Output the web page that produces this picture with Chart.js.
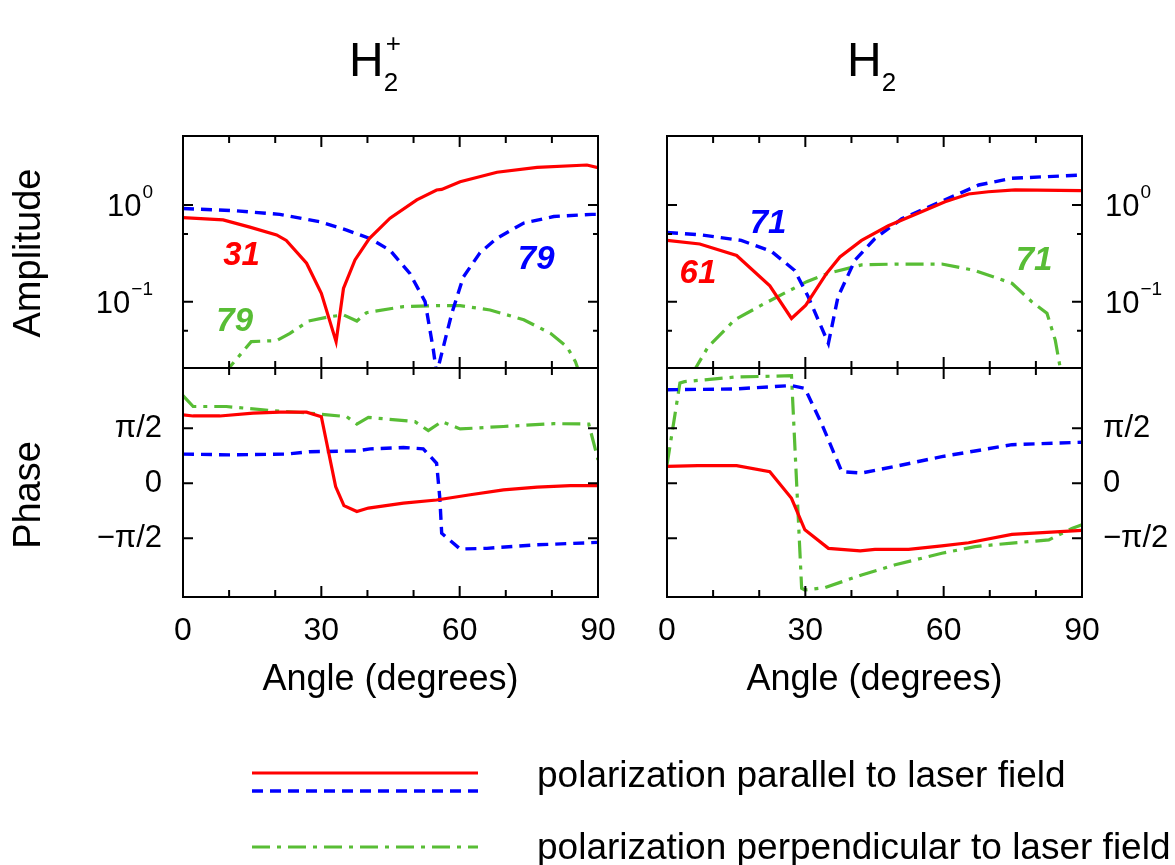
<!DOCTYPE html>
<html>
<head>
<meta charset="utf-8">
<script src="https://cdn.jsdelivr.net/npm/chart.js@4.4.0/dist/chart.umd.min.js"></script>
<style>
  html, body { margin: 0; padding: 0; background: #fff; }
  #wrap { position: relative; width: 1175px; height: 865px; overflow: hidden; background: #fff; }
  #wrap canvas { position: absolute; left: 0; top: 0; }
</style>
</head>
<body>
<div id="wrap">
  <canvas id="ampL" width="1175" height="865"></canvas>
  <canvas id="phaseL" width="1175" height="865"></canvas>
  <canvas id="ampR" width="1175" height="865"></canvas>
  <canvas id="phaseR" width="1175" height="865"></canvas>
</div>
<script>
// ---- data (angle in degrees, amplitude, phase in radians) ----

// H2+ amplitude
const h2pAmpParX  = [0, 8.7, 14.5, 20.3, 22.4, 26.8, 30, 33.2, 34.8, 37.3, 40.4, 44.9, 50.7, 55, 56.1, 60.1, 68.1, 76.8, 87.6, 90];
const h2pAmpParY  = [0.74, 0.70, 0.59, 0.49, 0.43, 0.25, 0.122, 0.0386, 0.137, 0.27, 0.45, 0.73, 1.13, 1.43, 1.45, 1.74, 2.18, 2.45, 2.59, 2.43];
const h2pAmpParBX = [0, 11.6, 21, 29.7, 35.5, 40.5, 44.9, 49.2, 52.5, 54.3, 55, 58.3, 60.8, 64.4, 68, 73.9, 80.4, 88.7, 90];
const h2pAmpParBY = [0.92, 0.87, 0.80, 0.67, 0.55, 0.45, 0.34, 0.196, 0.10, 0.0316, 0.018, 0.076, 0.18, 0.32, 0.45, 0.65, 0.76, 0.80, 0.80];
const h2pAmpPerX  = [8.5, 14.8, 20.3, 23.2, 27.2, 31.9, 34.8, 37.7, 39.8, 47.8, 55, 60.1, 66.6, 73.9, 79.7, 83.3, 85.1, 86];
const h2pAmpPerY  = [0.017, 0.0386, 0.0396, 0.047, 0.063, 0.070, 0.073, 0.063, 0.077, 0.089, 0.091, 0.091, 0.082, 0.065, 0.047, 0.034, 0.024, 0.018];

// H2+ phase
const h2pPhParX  = [0, 2.2, 8, 15.2, 21, 26.8, 30, 33.1, 34.9, 37.7, 40.2, 47.8, 55, 62.3, 69.5, 76.8, 84, 90];
const h2pPhParY  = [1.95, 1.92, 1.92, 2.0, 2.03, 2.03, 1.90, -0.095, -0.64, -0.81, -0.71, -0.57, -0.48, -0.33, -0.19, -0.11, -0.067, -0.067];
const h2pPhParBX = [0, 10.1, 22.4, 27.5, 37.7, 40.6, 47.8, 52.1, 55, 55.7, 56.1, 60.1, 65.9, 76.8, 90];
const h2pPhParBY = [0.83, 0.81, 0.83, 0.90, 0.92, 0.98, 1.02, 0.98, 0.57, -0.43, -1.43, -1.88, -1.86, -1.76, -1.69];
const h2pPhPerX  = [0, 2.2, 9.4, 18.8, 27.5, 35.5, 37.7, 40.2, 50.3, 53.2, 56.1, 60.1, 69.5, 80.4, 88, 90];
const h2pPhPerY  = [2.50, 2.19, 2.19, 2.08, 2.0, 1.90, 1.69, 1.88, 1.76, 1.50, 1.76, 1.55, 1.62, 1.70, 1.69, 0.67];

// H2 amplitude
const h2AmpParX  = [0, 7.1, 15.1, 22.3, 27, 30.1, 34.6, 37.5, 42.2, 48, 55.2, 60.3, 65.4, 69.7, 75.5, 90];
const h2AmpParY  = [0.43, 0.395, 0.30, 0.146, 0.067, 0.092, 0.196, 0.29, 0.43, 0.61, 0.85, 1.08, 1.30, 1.37, 1.43, 1.41];
const h2AmpParBX = [0, 7.5, 16.1, 22.7, 27.7, 30.6, 35, 37.1, 40.8, 45.1, 50.9, 60.3, 67.6, 74.8, 90];
const h2AmpParBY = [0.52, 0.49, 0.43, 0.33, 0.21, 0.113, 0.037, 0.113, 0.27, 0.45, 0.72, 1.13, 1.61, 1.89, 2.04];
const h2AmpPerX  = [5.5, 8.9, 14.7, 21.2, 30.3, 34.9, 42.2, 49.5, 59.6, 66.8, 74.8, 79.1, 82.4, 84.2, 85.5];
const h2AmpPerY  = [0.018, 0.034, 0.065, 0.096, 0.161, 0.196, 0.24, 0.245, 0.245, 0.21, 0.155, 0.10, 0.076, 0.040, 0.018];

// H2 phase
const h2PhParX  = [0, 6.7, 15.1, 22.3, 27, 29.9, 35, 41.9, 45.1, 52.4, 59.6, 65.4, 74.8, 90];
const h2PhParY  = [0.48, 0.50, 0.50, 0.33, -0.43, -1.33, -1.86, -1.93, -1.89, -1.89, -1.79, -1.70, -1.46, -1.35];
const h2PhParBX = [0, 14.7, 27, 29.9, 33.5, 37.9, 42.2, 49.5, 59.6, 66.8, 74.8, 90];
const h2PhParBY = [2.67, 2.69, 2.79, 2.71, 1.71, 0.33, 0.29, 0.48, 0.76, 0.92, 1.10, 1.17];
const h2PhPerX  = [0, 2.8, 3.8, 14.7, 27, 29.2, 29.9, 34.3, 42.2, 49.5, 59.6, 66.8, 74.8, 82.8, 87.8, 90];
const h2PhPerY  = [0.52, 2.86, 2.90, 3.03, 3.07, -3.0, -3.05, -2.98, -2.62, -2.33, -2.0, -1.81, -1.71, -1.62, -1.29, -1.19];

// axes
const angleTicks = [0, 10, 20, 30, 40, 50, 60, 70, 80, 90];
const angleLabels = [0, 30, 60, 90];
const ampTicks = [0.05, 0.1, 0.5, 1];
const ampTickMajor = [false, true, false, true];
const ampTickLabels = [null, ['10', '\u22121'], null, ['10', '0']];
const phaseTicks = [-Math.PI / 2, 0, Math.PI / 2];
const phaseTickLabels = ['\u2212\u03c0/2', '0', '\u03c0/2'];

// curve labels (in data coordinates)
const h2pNotes = [
    { text: '31', x: 12.7, y: 0.30, color: 'red' },
    { text: '79', x: 76.6, y: 0.273, color: 'blue' },
    { text: '79', x: 11.2, y: 0.0624, color: 'green' }
];
const h2Notes = [
    { text: '61', x: 6.7, y: 0.193, color: 'red' },
    { text: '71', x: 21.9, y: 0.644, color: 'blue' },
    { text: '71', x: 79.6, y: 0.267, color: 'green' }
];

const COLORS = { red: '#ff0000', blue: '#0000ff', green: '#58bd35' };
const FONT = '"Liberation Sans", Arial, Helvetica, sans-serif';
const W = 1175, H = 865;

function pts(xs, ys) {
    return xs.map((x, i) => ({ x: x, y: ys[i] }));
}

function makeSets(parX, parY, parBX, parBY, perX, perY) {
    return [
        { data: pts(parX, parY), borderColor: COLORS.red, borderWidth: 3.2, borderDash: [] },
        { data: pts(parBX, parBY), borderColor: COLORS.blue, borderWidth: 3.4, borderDash: [11, 7] },
        { data: pts(perX, perY), borderColor: COLORS.green, borderWidth: 3.2, borderDash: [18, 7, 4, 7] }
    ].map(d => Object.assign(d, { fill: false, pointRadius: 0, tension: 0, clip: 0 }));
}

function drawPower(ctx, base, exp, x, y, align) {
    ctx.font = '31px ' + FONT;
    const wb = ctx.measureText(base).width;
    ctx.font = '19px ' + FONT;
    const we = ctx.measureText(exp).width;
    let start = align === 'right' ? x - wb - we - 1 : x;
    ctx.textAlign = 'left';
    ctx.textBaseline = 'alphabetic';
    ctx.font = '31px ' + FONT;
    ctx.fillText(base, start, y + 11);
    ctx.font = '19px ' + FONT;
    ctx.fillText(exp, start + wb + 1, y - 7);
}

function panelPlugin(cfg) {
    return {
        id: 'panel_' + cfg.name,
        afterDatasetsDraw(chart) {
            const ctx = chart.ctx;
            const a = chart.chartArea;
            const xs = chart.scales.x, ys = chart.scales.y;
            ctx.save();

            // frame and inward ticks
            ctx.strokeStyle = '#000';
            ctx.lineWidth = 2;
            ctx.strokeRect(a.left, a.top, a.right - a.left, a.bottom - a.top);
            ctx.beginPath();
            angleTicks.forEach(v => {
                const px = xs.getPixelForValue(v);
                const len = v % 30 === 0 ? 11 : 7;
                ctx.moveTo(px, a.top); ctx.lineTo(px, a.top + len);
                ctx.moveTo(px, a.bottom); ctx.lineTo(px, a.bottom - len);
            });
            cfg.yTicks.forEach((v, i) => {
                const py = ys.getPixelForValue(v);
                const len = cfg.yMajor[i] ? 10 : 5;
                ctx.moveTo(a.left, py); ctx.lineTo(a.left + len, py);
                ctx.moveTo(a.right, py); ctx.lineTo(a.right - len, py);
            });
            ctx.stroke();

            ctx.fillStyle = '#000';
            // y tick labels
            cfg.yTicks.forEach((v, i) => {
                const lab = cfg.yLabels[i];
                if (!lab) return;
                const py = ys.getPixelForValue(v);
                if (Array.isArray(lab)) {
                    if (cfg.side === 'left') drawPower(ctx, lab[0], lab[1], a.left - 30, py, 'right');
                    else drawPower(ctx, lab[0], lab[1], a.right + 23, py, 'left');
                } else {
                    ctx.font = '31px ' + FONT;
                    ctx.textBaseline = 'middle';
                    if (cfg.side === 'left') {
                        ctx.textAlign = 'right';
                        ctx.fillText(lab, a.left - 21, py);
                    } else {
                        ctx.textAlign = 'left';
                        ctx.fillText(lab, a.right + 21, py);
                    }
                }
            });

            // x tick labels + axis title
            if (cfg.xAxis) {
                ctx.font = '32px ' + FONT;
                ctx.textAlign = 'center';
                ctx.textBaseline = 'alphabetic';
                angleLabels.forEach(v => {
                    ctx.fillText(String(v), xs.getPixelForValue(v), a.bottom + 43);
                });
                ctx.font = '36px ' + FONT;
                ctx.fillText('Angle (degrees)', (a.left + a.right) / 2, a.bottom + 93);
            }

            // y axis title (left column only)
            if (cfg.yTitle) {
                ctx.save();
                ctx.translate(30, cfg.yTitleY);
                ctx.rotate(-Math.PI / 2);
                ctx.font = '38px ' + FONT;
                ctx.textAlign = 'center';
                ctx.textBaseline = 'middle';
                ctx.fillText(cfg.yTitle, 0, 0);
                ctx.restore();
            }

            // curve labels
            if (cfg.notes) {
                ctx.font = 'italic bold 33px ' + FONT;
                ctx.textAlign = 'center';
                ctx.textBaseline = 'middle';
                cfg.notes.forEach(n => {
                    ctx.fillStyle = COLORS[n.color];
                    ctx.fillText(n.text, xs.getPixelForValue(n.x), ys.getPixelForValue(n.y));
                });
            }

            // panel title
            if (cfg.title) {
                const t = cfg.title;
                ctx.fillStyle = '#000';
                ctx.textAlign = 'left';
                ctx.textBaseline = 'alphabetic';
                ctx.font = '48px ' + FONT;
                ctx.fillText('H', t.x, 76);
                const wH = ctx.measureText('H').width;
                ctx.font = '26px ' + FONT;
                ctx.fillText('2', t.x + wH, 91);
                if (t.sup) ctx.fillText(t.sup, t.x + wH + 2, 52);
            }

            // legend (drawn once, from this chart's own dataset styles)
            if (cfg.legend) {
                const ds = chart.data.datasets;
                const rows = [773, 791, 847];
                ds.forEach((d, i) => {
                    ctx.beginPath();
                    ctx.strokeStyle = d.borderColor;
                    ctx.lineWidth = d.borderWidth;
                    ctx.setLineDash(d.borderDash);
                    ctx.moveTo(252, rows[i]);
                    ctx.lineTo(478, rows[i]);
                    ctx.stroke();
                });
                ctx.setLineDash([]);
                ctx.fillStyle = '#000';
                ctx.font = '37px ' + FONT;
                ctx.textAlign = 'left';
                ctx.textBaseline = 'alphabetic';
                ctx.fillText('polarization parallel to laser field', 537, 787);
                ctx.fillText('polarization perpendicular to laser field', 537, 859);
            }
            ctx.restore();
        }
    };
}

function makeChart(id, datasets, yScale, box, plugin) {
    return new Chart(document.getElementById(id), {
        type: 'line',
        data: { datasets: datasets },
        options: {
            responsive: false,
            animation: false,
            devicePixelRatio: 1,
            events: [],
            layout: { padding: { left: box.l, top: box.t, right: W - box.r, bottom: H - box.b } },
            plugins: { legend: { display: false }, tooltip: { enabled: false }, title: { display: false } },
            scales: {
                x: { type: 'linear', min: 0, max: 90, display: false },
                y: yScale
            }
        },
        plugins: [plugin]
    });
}

const ampScale = () => ({ type: 'logarithmic', min: 0.0206, max: 5.17, display: false });
const phaseScale = () => ({ type: 'linear', min: -3.25, max: 3.29, display: false });

makeChart('ampL', makeSets(h2pAmpParX, h2pAmpParY, h2pAmpParBX, h2pAmpParBY, h2pAmpPerX, h2pAmpPerY),
    ampScale(), { l: 183, r: 598, t: 136, b: 368 },
    panelPlugin({ name: 'ampL', side: 'left', yTicks: ampTicks, yMajor: ampTickMajor, yLabels: ampTickLabels,
        yTitle: 'Amplitude', yTitleY: 253, notes: h2pNotes, title: { x: 349, sup: '+' } }));

makeChart('phaseL', makeSets(h2pPhParX, h2pPhParY, h2pPhParBX, h2pPhParBY, h2pPhPerX, h2pPhPerY),
    phaseScale(), { l: 183, r: 598, t: 368, b: 597 },
    panelPlugin({ name: 'phaseL', side: 'left', yTicks: phaseTicks, yMajor: [true, true, true], yLabels: phaseTickLabels,
        yTitle: 'Phase', yTitleY: 495, xAxis: true }));

makeChart('ampR', makeSets(h2AmpParX, h2AmpParY, h2AmpParBX, h2AmpParBY, h2AmpPerX, h2AmpPerY),
    ampScale(), { l: 667, r: 1082, t: 136, b: 368 },
    panelPlugin({ name: 'ampR', side: 'right', yTicks: ampTicks, yMajor: ampTickMajor, yLabels: ampTickLabels,
        notes: h2Notes, title: { x: 847 } }));

makeChart('phaseR', makeSets(h2PhParX, h2PhParY, h2PhParBX, h2PhParBY, h2PhPerX, h2PhPerY),
    phaseScale(), { l: 667, r: 1082, t: 368, b: 597 },
    panelPlugin({ name: 'phaseR', side: 'right', yTicks: phaseTicks, yMajor: [true, true, true], yLabels: phaseTickLabels,
        xAxis: true, legend: true }));
</script>
</body>
</html>
